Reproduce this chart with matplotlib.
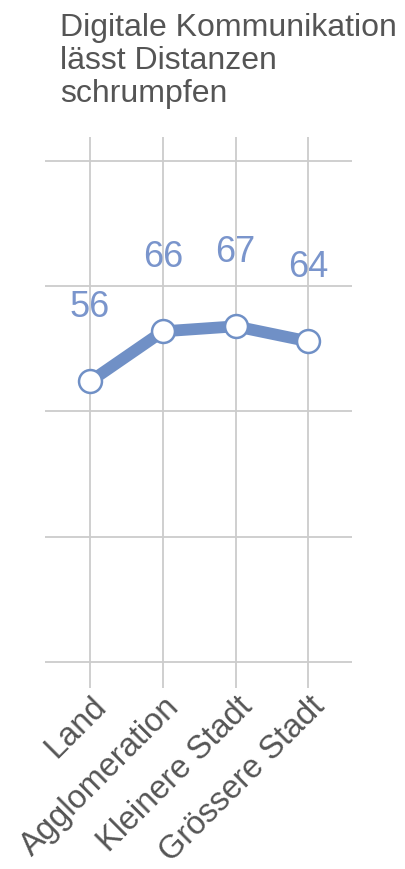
import matplotlib
matplotlib.use("Agg")
import matplotlib.pyplot as plt
import matplotlib.transforms as mtransforms

categories = ["Land", "Agglomeration", "Kleinere Stadt", "Grössere Stadt"]
values = [56, 66, 67, 64]
yticks = [0, 25, 50, 75, 100]
title = "Digitale Kommunikation\nlässt Distanzen\nschrumpfen"

plt.rcParams['font.family'] = ['Liberation Sans', 'DejaVu Sans']

W, H = 406, 869
fig = plt.figure(figsize=(W / 100, H / 100), dpi=100)
ax = fig.add_axes([45 / W, 1 - 688 / H, (352 - 45) / W, (688 - 137) / H])

line_color = "#7090c6"
label_color = "#7a95cc"
grid_color = "#cccccc"
text_color = "#555555"

x = list(range(len(categories)))
ax.plot(x, values, color=line_color, lw=8.5, solid_capstyle='round', zorder=3,
        marker='o', markersize=16.5, markerfacecolor='white',
        markeredgecolor=line_color, markeredgewidth=1.8)
for xi, v in zip(x, values):
    ax.annotate(str(v), (xi, v), xytext=(0, 53), textcoords='offset points',
                ha='center', va='center', fontsize=26, color=label_color)

ax.set_xlim(-0.62, 3.6)
ax.set_ylim(-5.19, 104.79)
ax.set_yticks(yticks)
ax.set_xticks(x)
ax.set_xticklabels(categories, rotation=45, ha='right', va='center',
                   rotation_mode='anchor', fontsize=23.5, color=text_color)
ax.tick_params(axis='x', length=0, pad=10)
ax.tick_params(axis='y', length=0, labelleft=False)
offset = mtransforms.ScaledTranslation(12 / 100, 0, fig.dpi_scale_trans)
for lbl in ax.get_xticklabels():
    lbl.set_transform(lbl.get_transform() + offset)
ax.grid(True, color=grid_color, lw=1.3)
ax.set_axisbelow(True)
for s in ax.spines.values():
    s.set_visible(False)

fig.text(60 / W, 1 - 13 / H, title, ha='left', va='top', fontsize=23,
         color=text_color, linespacing=1.12)

fig.savefig("out.png", dpi=100)
